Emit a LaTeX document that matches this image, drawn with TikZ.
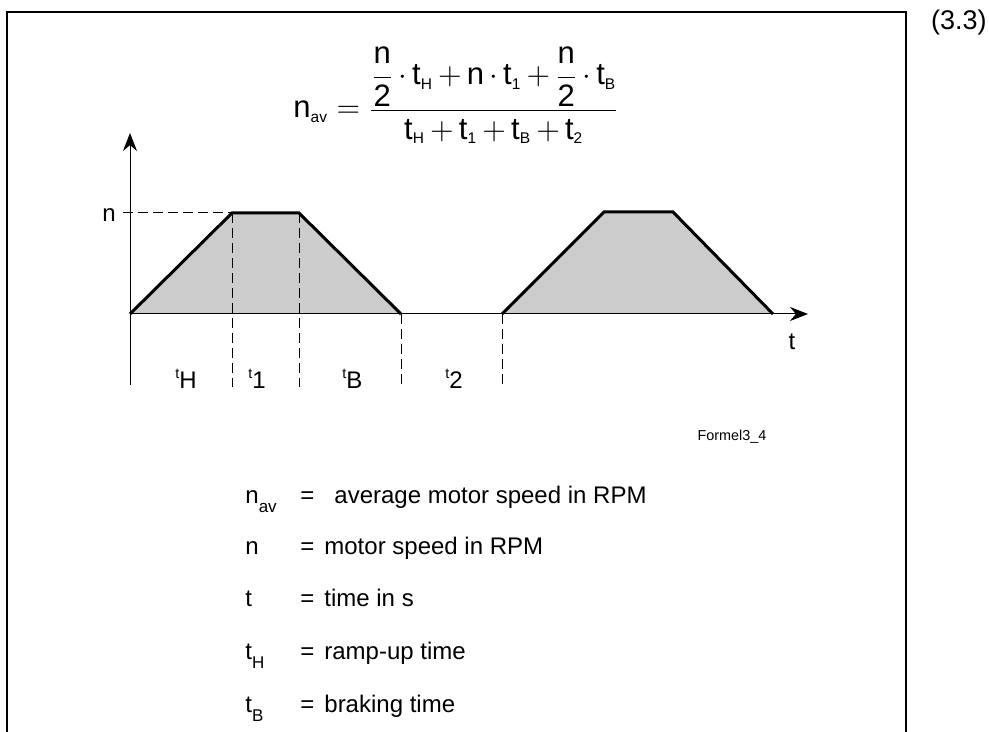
\RequirePackage{fix-cm}
\documentclass[tikz,border=0pt]{standalone}
\usepackage{amsmath}
\usepackage{fontspec}
\setmainfont{Liberation Sans}
\usetikzlibrary{arrows.meta}
\definecolor{RampGray}{HTML}{CCCCCC}
\newcommand\tlab[1]{\raisebox{5pt}{\fontsize{7.2}{8}\selectfont t}#1}
\newcommand\lsub[1]{\raisebox{-4.5pt}{\fontsize{8.5}{9}\selectfont #1}}
\newcommand\msub[1]{_{\scriptscriptstyle\mathrm{#1}}}

\begin{document}
\begin{tikzpicture}[x=.5pt,y=-.5pt,>={Stealth[length=9pt,width=7pt]},
  axis/.style={line width=.5pt},
  ramp/.style={line width=1.5pt},
  guide/.style={line width=.5pt,dash pattern=on 5pt off 2.5pt},
  lbl/.style={inner sep=0pt,font=\fontsize{12}{14}\selectfont},
  legend/.style={inner sep=0pt,anchor=base west,font=\fontsize{12}{14}\selectfont}]
  \useasboundingbox (0,0) rectangle (989,732);
  \draw[line width=1.25pt] (7,732) -- (7,12) -- (906,12) -- (906,732);
  \node[anchor=base east,inner sep=0pt,font=\fontsize{13.5}{16}\selectfont] (eqno) at (987,30) {(3.3)};
  \node[anchor=base west,inner sep=0pt,font=\fontsize{15.5}{18}\selectfont] (formula) at (293,118)
    {\medmuskip=3mu $\mathrm{n}\msub{av}=\dfrac{\dfrac{\mathrm{n}}{\mathrm{2}}\cdot\mathrm{t}\msub{H}+\mathrm{n}\cdot\mathrm{t}\msub{1}+\dfrac{\mathrm{n}}{\mathrm{2}}\cdot\mathrm{t}\msub{B}}{\mathrm{t}\msub{H}+\mathrm{t}\msub{1}+\mathrm{t}\msub{B}+\mathrm{t}\msub{2}}$};

  \coordinate (O) at (130,314);
  \coordinate (ytop) at (130,133);
  \coordinate (ybot) at (130,385);
  \coordinate (tend) at (808,314);
  \coordinate (nmark) at (123,213);
  \coordinate (A1) at (232,213);
  \coordinate (A2) at (299,213);
  \coordinate (A3) at (401,314);
  \coordinate (B0) at (502,314);
  \coordinate (B1) at (604,212);
  \coordinate (B2) at (673,212);
  \coordinate (B3) at (773,314);
  \coordinate (g1) at (232,387);
  \coordinate (g2) at (299,387);
  \coordinate (g3) at (401,387);
  \coordinate (g4) at (502,387);

  \fill[RampGray] (O) -- (A1) -- (A2) -- (A3) -- cycle;
  \fill[RampGray] (B0) -- (B1) -- (B2) -- (B3) -- cycle;
  \draw[guide] (nmark) -- (A1);
  \draw[guide] (A1) -- (g1);
  \draw[guide] (A2) -- (g2);
  \draw[guide] (A3) -- (g3);
  \draw[guide] (B0) -- (g4);
  \draw[axis,->] (ybot) -- (ytop);
  \draw[axis,->] (O) -- (tend);
  \draw[ramp] (O) -- (A1) -- (A2) -- (A3);
  \draw[ramp] (B0) -- (B1) -- (B2) -- (B3);

  \node[lbl,anchor=east] (nlab) at (116,215) {n};
  \node[lbl] (tlab) at (792,342) {t};
  \node[lbl,anchor=base west] (lH) at (175,388) {\tlab{H}};
  \node[lbl,anchor=base west] (l1) at (248,388) {\tlab{1}};
  \node[lbl,anchor=base west] (lB) at (342,388) {\tlab{B}};
  \node[lbl,anchor=base west] (l2) at (445,388) {\tlab{2}};
  \node[inner sep=0pt,font=\fontsize{7.2}{9}\selectfont] (src) at (732,437) {Formel3\_4};

  \node[legend] (s1) at (245,503) {n\lsub{av}};
  \node[legend] (d1) at (300,503) {=\hspace{10pt}average motor speed in RPM};
  \node[legend] (s2) at (245,554) {n};
  \node[legend] (d2) at (300,554) {=\hspace{5pt}motor speed in RPM};
  \node[legend] (s3) at (245,606) {t};
  \node[legend] (d3) at (300,606) {=\hspace{5pt}time in s};
  \node[legend] (s4) at (245,659) {t\lsub{H}};
  \node[legend] (d4) at (300,659) {=\hspace{5pt}ramp-up time};
  \node[legend] (s5) at (245,712) {t\lsub{B}};
  \node[legend] (d5) at (300,712) {=\hspace{5pt}braking time};
\end{tikzpicture}
\end{document}
